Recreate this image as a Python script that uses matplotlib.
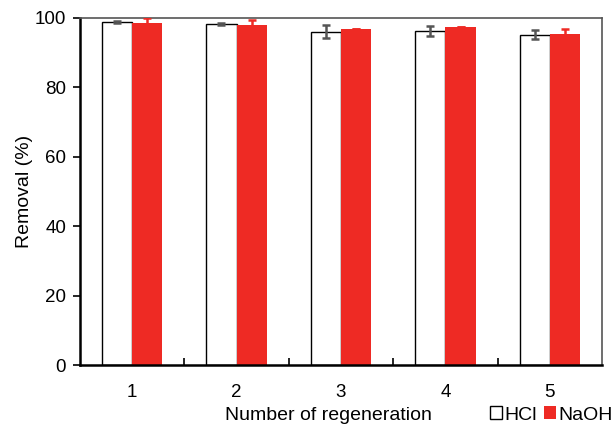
import matplotlib
matplotlib.use("Agg")
import matplotlib.pyplot as plt
import numpy as np
from matplotlib.patches import Patch

plt.rcParams['font.family'] = ['Liberation Sans', 'DejaVu Sans']

categories = ['1', '2', '3', '4', '5']
hcl = [98.9, 98.3, 96.0, 96.2, 95.2]
hcl_err = [0.3, 0.2, 1.9, 1.5, 1.2]
naoh = [98.7, 98.1, 96.9, 97.5, 95.4]
naoh_err = [1.4, 1.4, 0.0, 0.0, 1.3]

fig = plt.figure(figsize=(6.15, 4.24), dpi=100)
ax = fig.add_axes([0.130, 1 - 365 / 424, 0.849, (365 - 18) / 424])

x = np.arange(len(categories))
w = 0.29
ax.bar(x - w / 2, hcl, w, color='white', edgecolor='black', linewidth=1.0, zorder=2)
ax.bar(x + w / 2, naoh, w, color='#EE2A24', edgecolor='none', zorder=2)
ax.errorbar(x - w / 2, hcl, yerr=hcl_err, fmt='none', ecolor='#555555',
            elinewidth=1.8, capsize=3, capthick=1.8, zorder=3)
ax.errorbar(x + w / 2, naoh, yerr=naoh_err, fmt='none', ecolor='#EE2A24',
            elinewidth=1.8, capsize=3, capthick=1.8, zorder=3)

ax.set_xlim(-0.5, len(categories) - 0.5)
ax.set_ylim(0, 100)
ax.set_yticks([0, 20, 40, 60, 80, 100])
ax.set_xticks(x)
ax.set_xticklabels(categories)
ax.set_xticks(np.arange(0.5, len(categories) - 1, 1.0), minor=True)
ax.tick_params(axis='x', which='major', length=0, pad=14, labelsize=13.5)
ax.tick_params(axis='x', which='minor', direction='in', length=5, width=1.2, color='black')
ax.tick_params(axis='y', direction='out', length=5, width=1.2, labelsize=13.5, pad=5)

for s in ['left', 'bottom']:
    ax.spines[s].set_color('black')
    ax.spines[s].set_linewidth(1.8)
for s in ['top', 'right']:
    ax.spines[s].set_color('#555555')
    ax.spines[s].set_linewidth(1.2)

ax.set_ylabel('Removal (%)', fontsize=14, labelpad=1.5)
fig.text(328 / 615, 1 - 415 / 424, 'Number of regeneration', fontsize=14,
         ha='center', va='center')

handles = [Patch(facecolor='white', edgecolor='black', linewidth=1.0, label='HCl'),
           Patch(facecolor='#EE2A24', edgecolor='none', label='NaOH')]
fig.legend(handles=handles, loc='center right', bbox_to_anchor=(1.0, 1 - 415 / 424),
           ncol=2, frameon=False, fontsize=14, handlelength=0.6, handleheight=0.6,
           handletextpad=0.15, columnspacing=0.35, borderaxespad=0, borderpad=0.1)

fig.savefig('out.png', dpi=100)
